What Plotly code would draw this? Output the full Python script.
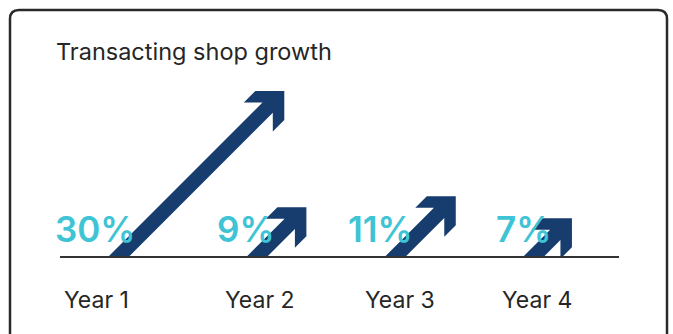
import plotly.graph_objects as go

# ---- data ----
years = ["Year 1", "Year 2", "Year 3", "Year 4"]
growth_pct = [30, 9, 11, 7]
pct_labels = ["30%", "9%", "11%", "7%"]
title_text = "Transacting shop growth"

# ---- canvas / scale layout (pixels) ----
W, H = 673, 334
BASE_PX = 257            # pixel row of the 0% baseline
PX_PER_PCT = 166 / 30    # vertical pixels per percentage point
SLOT0_PX = 118.3         # pixel x of the first arrow foot
SLOT_PX = 138.3          # pixel distance between arrow feet

y_lo = -(H - BASE_PX) / PX_PER_PCT
y_hi = BASE_PX / PX_PER_PCT
x_lo = -SLOT0_PX / SLOT_PX
x_hi = x_lo + W / SLOT_PX

# arrow geometry (pixels)
HEAD_LEG = 29.0      # length of the outer head edges
BARB = 11.5          # barb depth
HALF_SHAFT = 10.3    # half shaft width measured along x+y

# year label horizontal nudges (pixels)
year_label_shift = [-22, 3, 5, 4]

NAVY = "#173d6e"
CYAN = "#3ec4d4"
INK = "#262626"
FONT = "Inter"


def arrow_polygon(i, v):
    """Diagonal 45-degree arrow whose tip height equals the value v."""
    hp = v * PX_PER_PCT
    tip_x = i + hp / SLOT_PX
    a, b, s = HEAD_LEG, BARB, HALF_SHAFT
    pts = [(0, 0), (-a, 0), (-a - b, b), (-s - b, b),
           (-s - hp, hp), (s - hp, hp), (-b, s + b)]
    if a + b <= hp:
        pts += [(-b, a + b)]
    else:
        pts += [(-b, hp), (a - hp, hp)]
    pts += [(0, a), (0, 0)]
    xs = [tip_x + ox / SLOT_PX for ox, oy in pts]
    ys = [v - oy / PX_PER_PCT for ox, oy in pts]
    return xs, ys


fig = go.Figure()

for i, v in enumerate(growth_pct):
    xs, ys = arrow_polygon(i, v)
    fig.add_trace(go.Scatter(
        x=xs, y=ys, mode="lines", fill="toself",
        fillcolor=NAVY, line=dict(width=0, color=NAVY),
        hoverinfo="skip", showlegend=False,
    ))

annotations = []
# percentage labels, right-aligned just past each arrow foot
for i, lab in enumerate(pct_labels):
    annotations.append(dict(
        x=i + 19 / SLOT_PX, y=0, xref="x", yref="y",
        text=lab, showarrow=False, xanchor="right", yanchor="bottom",
        yshift=6, borderpad=0,
        font=dict(family=FONT, size=35, color=CYAN, weight=600),
    ))
# year labels under the baseline
for i, yr in enumerate(years):
    annotations.append(dict(
        x=i + year_label_shift[i] / SLOT_PX, y=0, xref="x", yref="y",
        text=yr, showarrow=False, xanchor="center", yanchor="middle",
        yshift=-43, borderpad=0,
        font=dict(family=FONT, size=23, color=INK),
    ))
# title
annotations.append(dict(
    x=55 / W, y=1 - 51 / H, xref="paper", yref="paper",
    text=title_text, showarrow=False, xanchor="left", yanchor="middle",
    borderpad=0,
    font=dict(family=FONT, size=23.5, color=INK),
))

# rounded card outline, open at the bottom edge of the view
L, T, R, B = 10 / W, 1 - 10 / H, 667 / W, -0.2
rx, ry = 9 / W, 9 / H
card_path = (
    f"M {L},{B} L {L},{T - ry} Q {L},{T} {L + rx},{T} "
    f"L {R - rx},{T} Q {R},{T} {R},{T - ry} L {R},{B}"
)

shapes = [
    dict(type="path", path=card_path, xref="paper", yref="paper",
         line=dict(color="#2a2a2a", width=2.5), layer="below"),
    dict(type="line", xref="paper", yref="y", x0=60 / W, x1=619 / W,
         y0=0, y1=0, line=dict(color="#333333", width=2), layer="above"),
]

fig.update_layout(
    width=W, height=H,
    margin=dict(l=0, r=0, t=0, b=0),
    paper_bgcolor="white", plot_bgcolor="white",
    xaxis=dict(range=[x_lo, x_hi], visible=False, fixedrange=True),
    yaxis=dict(range=[y_lo, y_hi], visible=False, fixedrange=True),
    annotations=annotations,
    shapes=shapes,
    showlegend=False,
)

fig.write_html("out.html", config={"displayModeBar": False})
